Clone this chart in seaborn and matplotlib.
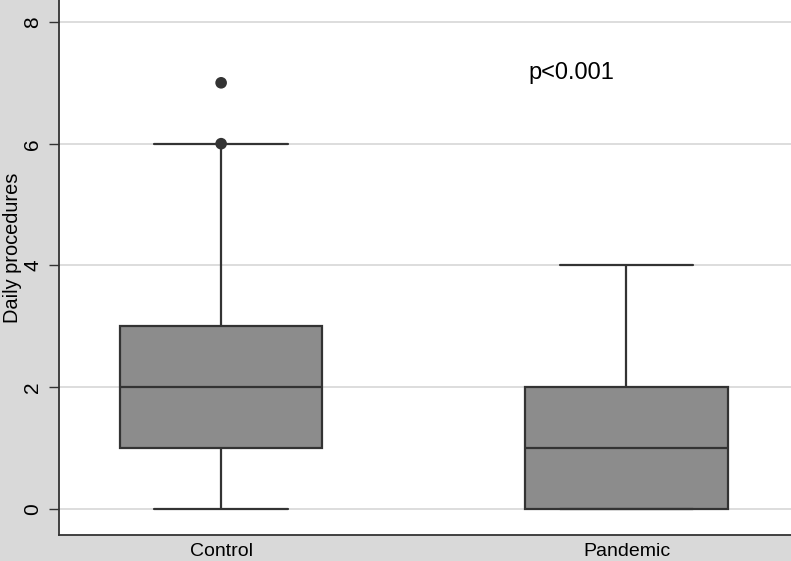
import numpy as np
import pandas as pd
import seaborn as sns
import matplotlib.pyplot as plt

# five-number summaries (min, q1, median, q3, max)
groups = ["Control", "Pandemic"]
control_vals = [0, 1, 2, 3, 6]
pandemic_vals = [0, 0, 1, 2, 4]
# outside values plotted as dots for Control
outlier_group = ["Control", "Control"]
outlier_vals = [6, 7]
y_ticks = [0, 2, 4, 6, 8]
p_text = "p<0.001"

df = pd.DataFrame({
    "group": ["Control"] * len(control_vals) + ["Pandemic"] * len(pandemic_vals),
    "value": control_vals + pandemic_vals,
})
out = pd.DataFrame({"group": outlier_group, "value": outlier_vals})

sns.set_style("white")
plt.rcParams["font.family"] = ["Liberation Sans", "DejaVu Sans"]
plt.rcParams["text.color"] = "black"
plt.rcParams["axes.labelcolor"] = "black"
plt.rcParams["xtick.labelcolor"] = "black"
plt.rcParams["ytick.labelcolor"] = "black"

line_col = "#333333"
fig = plt.figure(figsize=(7.91, 5.61), dpi=100, facecolor="#d9d9d9")
ax = fig.add_axes([59 / 791, 26 / 561, 732 / 791, 535 / 561])
ax.set_facecolor("white")

for y in y_ticks:
    ax.axhline(y, color="#dadada", lw=1.3, zorder=0)

sns.boxplot(data=df, x="group", y="value", order=groups, whis=(0, 100),
            width=0.5, color="#8c8c8c", saturation=1, linecolor=line_col,
            linewidth=1.6, fliersize=0, ax=ax, zorder=2,
            capprops={"color": line_col}, whiskerprops={"color": line_col},
            medianprops={"color": line_col})
# widen the whisker caps like the original
for ln in ax.lines:
    xd = ln.get_xdata()
    yd = ln.get_ydata()
    if len(xd) == 2 and yd[0] == yd[1] and xd[0] != xd[1]:
        c = (xd[0] + xd[1]) / 2
        if abs(xd[1] - xd[0]) < 0.4:
            ln.set_xdata([c - 0.165, c + 0.165])

sns.scatterplot(data=out, x="group", y="value", color=line_col, s=70,
                edgecolor="none", ax=ax, zorder=3)

ax.set_xlim(-0.40, 1.406)
ax.set_ylim(-0.427, 8.36)
ax.set_yticks(y_ticks)
ax.set_yticklabels([str(t) for t in y_ticks])
plt.setp(ax.get_yticklabels(), rotation=90, va="center")
ax.tick_params(axis="y", length=7, width=1, color=line_col, pad=5, left=True,
               labelsize=15, labelcolor="black")
ax.tick_params(axis="x", length=0, pad=6, labelsize=14, labelcolor="black")
ax.set_xlabel("")
ax.set_ylabel("Daily procedures", fontsize=14.4, va="center", color="black")
ax.yaxis.set_label_coords(-0.064, 0.536)

for s in ["top", "right"]:
    ax.spines[s].set_visible(False)
for s in ["left", "bottom"]:
    ax.spines[s].set_color(line_col)
    ax.spines[s].set_linewidth(1.3)

ax.text(0.863, 7.16, p_text, ha="center", va="center", fontsize=17, color="black")

plt.savefig("out.png", dpi=100, facecolor=fig.get_facecolor())
